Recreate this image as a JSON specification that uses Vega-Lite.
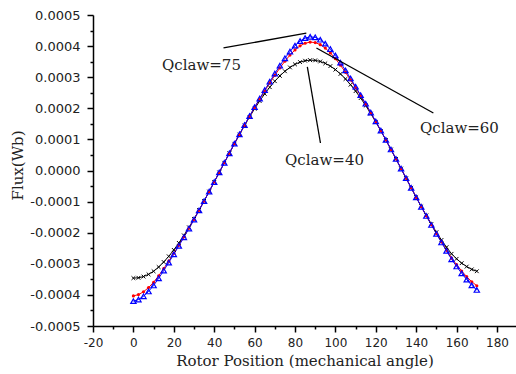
{
  "$schema": "https://vega.github.io/schema/vega-lite/v6.json",
  "width": 423,
  "height": 311,
  "autosize": "none",
  "padding": {"left": 93, "top": 15, "right": 0, "bottom": 48},
  "background": "white",
  "config": {"view": {"stroke": null}},
  "datasets": {
    "curves": [
      {"s":"Qclaw=40","x":0,"y":-0.000346},{"s":"Qclaw=40","x":2.5,"y":-0.000345},{"s":"Qclaw=40","x":5,"y":-0.000341},{"s":"Qclaw=40","x":7.5,"y":-0.000334},{"s":"Qclaw=40","x":10,"y":-0.000324},{"s":"Qclaw=40","x":12.5,"y":-0.0003105},{"s":"Qclaw=40","x":15,"y":-0.0002943},{"s":"Qclaw=40","x":17.5,"y":-0.0002759},{"s":"Qclaw=40","x":20,"y":-0.0002554},{"s":"Qclaw=40","x":22.5,"y":-0.0002329},{"s":"Qclaw=40","x":25,"y":-0.0002087},{"s":"Qclaw=40","x":27.5,"y":-0.0001828},{"s":"Qclaw=40","x":30,"y":-0.0001556},{"s":"Qclaw=40","x":32.5,"y":-0.0001272},{"s":"Qclaw=40","x":35,"y":-0.0000978},{"s":"Qclaw=40","x":37.5,"y":-0.0000677},{"s":"Qclaw=40","x":40,"y":-0.0000371},{"s":"Qclaw=40","x":42.5,"y":-0.0000062},{"s":"Qclaw=40","x":45,"y":0.0000248},{"s":"Qclaw=40","x":47.5,"y":0.0000555},{"s":"Qclaw=40","x":50,"y":0.0000859},{"s":"Qclaw=40","x":52.5,"y":0.0001156},{"s":"Qclaw=40","x":55,"y":0.0001444},{"s":"Qclaw=40","x":57.5,"y":0.0001721},{"s":"Qclaw=40","x":60,"y":0.0001985},{"s":"Qclaw=40","x":62.5,"y":0.0002234},{"s":"Qclaw=40","x":65,"y":0.0002466},{"s":"Qclaw=40","x":67.5,"y":0.0002679},{"s":"Qclaw=40","x":70,"y":0.0002872},{"s":"Qclaw=40","x":72.5,"y":0.0003043},{"s":"Qclaw=40","x":75,"y":0.0003191},{"s":"Qclaw=40","x":77.5,"y":0.0003314},{"s":"Qclaw=40","x":80,"y":0.0003413},{"s":"Qclaw=40","x":82.5,"y":0.0003485},{"s":"Qclaw=40","x":85,"y":0.000353},{"s":"Qclaw=40","x":87.5,"y":0.0003549},{"s":"Qclaw=40","x":90,"y":0.0003541},{"s":"Qclaw=40","x":92.5,"y":0.0003506},{"s":"Qclaw=40","x":95,"y":0.0003445},{"s":"Qclaw=40","x":97.5,"y":0.0003357},{"s":"Qclaw=40","x":100,"y":0.0003243},{"s":"Qclaw=40","x":102.5,"y":0.0003105},{"s":"Qclaw=40","x":105,"y":0.0002943},{"s":"Qclaw=40","x":107.5,"y":0.0002759},{"s":"Qclaw=40","x":110,"y":0.0002554},{"s":"Qclaw=40","x":112.5,"y":0.0002329},{"s":"Qclaw=40","x":115,"y":0.0002087},{"s":"Qclaw=40","x":117.5,"y":0.0001828},{"s":"Qclaw=40","x":120,"y":0.0001556},{"s":"Qclaw=40","x":122.5,"y":0.0001272},{"s":"Qclaw=40","x":125,"y":0.0000978},{"s":"Qclaw=40","x":127.5,"y":0.0000677},{"s":"Qclaw=40","x":130,"y":0.0000371},{"s":"Qclaw=40","x":132.5,"y":0.0000062},{"s":"Qclaw=40","x":135,"y":-0.0000248},{"s":"Qclaw=40","x":137.5,"y":-0.0000555},{"s":"Qclaw=40","x":140,"y":-0.0000859},{"s":"Qclaw=40","x":142.5,"y":-0.0001156},{"s":"Qclaw=40","x":145,"y":-0.0001444},{"s":"Qclaw=40","x":147.5,"y":-0.0001721},{"s":"Qclaw=40","x":150,"y":-0.0001985},{"s":"Qclaw=40","x":152.5,"y":-0.0002234},{"s":"Qclaw=40","x":155,"y":-0.0002466},{"s":"Qclaw=40","x":157.5,"y":-0.0002679},{"s":"Qclaw=40","x":160,"y":-0.000284},{"s":"Qclaw=40","x":162.5,"y":-0.000298},{"s":"Qclaw=40","x":165,"y":-0.000309},{"s":"Qclaw=40","x":167.5,"y":-0.000318},{"s":"Qclaw=40","x":170,"y":-0.000324},
      {"s":"Qclaw=60","x":0,"y":-0.0004032},{"s":"Qclaw=60","x":2.5,"y":-0.0003991},{"s":"Qclaw=60","x":5,"y":-0.00039},{"s":"Qclaw=60","x":7.5,"y":-0.0003765},{"s":"Qclaw=60","x":10,"y":-0.0003593},{"s":"Qclaw=60","x":12.5,"y":-0.0003385},{"s":"Qclaw=60","x":15,"y":-0.0003156},{"s":"Qclaw=60","x":17.5,"y":-0.0002914},{"s":"Qclaw=60","x":20,"y":-0.0002662},{"s":"Qclaw=60","x":22.5,"y":-0.0002402},{"s":"Qclaw=60","x":25,"y":-0.0002133},{"s":"Qclaw=60","x":27.5,"y":-0.0001856},{"s":"Qclaw=60","x":30,"y":-0.0001573},{"s":"Qclaw=60","x":32.5,"y":-0.0001281},{"s":"Qclaw=60","x":35,"y":-0.0000983},{"s":"Qclaw=60","x":37.5,"y":-0.0000677},{"s":"Qclaw=60","x":40,"y":-0.0000371},{"s":"Qclaw=60","x":42.5,"y":-0.0000062},{"s":"Qclaw=60","x":45,"y":0.0000248},{"s":"Qclaw=60","x":47.5,"y":0.0000555},{"s":"Qclaw=60","x":50,"y":0.0000863},{"s":"Qclaw=60","x":52.5,"y":0.0001164},{"s":"Qclaw=60","x":55,"y":0.0001457},{"s":"Qclaw=60","x":57.5,"y":0.0001744},{"s":"Qclaw=60","x":60,"y":0.0002023},{"s":"Qclaw=60","x":62.5,"y":0.0002295},{"s":"Qclaw=60","x":65,"y":0.0002559},{"s":"Qclaw=60","x":67.5,"y":0.0002815},{"s":"Qclaw=60","x":70,"y":0.0003061},{"s":"Qclaw=60","x":72.5,"y":0.0003296},{"s":"Qclaw=60","x":75,"y":0.0003514},{"s":"Qclaw=60","x":77.5,"y":0.000371},{"s":"Qclaw=60","x":80,"y":0.0003878},{"s":"Qclaw=60","x":82.5,"y":0.0004008},{"s":"Qclaw=60","x":85,"y":0.0004092},{"s":"Qclaw=60","x":87.5,"y":0.0004128},{"s":"Qclaw=60","x":90,"y":0.0004113},{"s":"Qclaw=60","x":92.5,"y":0.0004047},{"s":"Qclaw=60","x":95,"y":0.0003935},{"s":"Qclaw=60","x":97.5,"y":0.0003782},{"s":"Qclaw=60","x":100,"y":0.0003596},{"s":"Qclaw=60","x":102.5,"y":0.0003385},{"s":"Qclaw=60","x":105,"y":0.0003156},{"s":"Qclaw=60","x":107.5,"y":0.0002914},{"s":"Qclaw=60","x":110,"y":0.0002662},{"s":"Qclaw=60","x":112.5,"y":0.0002402},{"s":"Qclaw=60","x":115,"y":0.0002133},{"s":"Qclaw=60","x":117.5,"y":0.0001856},{"s":"Qclaw=60","x":120,"y":0.0001573},{"s":"Qclaw=60","x":122.5,"y":0.0001281},{"s":"Qclaw=60","x":125,"y":0.0000983},{"s":"Qclaw=60","x":127.5,"y":0.0000677},{"s":"Qclaw=60","x":130,"y":0.0000371},{"s":"Qclaw=60","x":132.5,"y":0.0000062},{"s":"Qclaw=60","x":135,"y":-0.0000248},{"s":"Qclaw=60","x":137.5,"y":-0.0000555},{"s":"Qclaw=60","x":140,"y":-0.0000863},{"s":"Qclaw=60","x":142.5,"y":-0.0001164},{"s":"Qclaw=60","x":145,"y":-0.0001457},{"s":"Qclaw=60","x":147.5,"y":-0.0001744},{"s":"Qclaw=60","x":150,"y":-0.0002023},{"s":"Qclaw=60","x":152.5,"y":-0.0002295},{"s":"Qclaw=60","x":155,"y":-0.0002559},{"s":"Qclaw=60","x":157.5,"y":-0.0002815},{"s":"Qclaw=60","x":160,"y":-0.0003029},{"s":"Qclaw=60","x":162.5,"y":-0.0003233},{"s":"Qclaw=60","x":165,"y":-0.0003413},{"s":"Qclaw=60","x":167.5,"y":-0.0003576},{"s":"Qclaw=60","x":170,"y":-0.0003705},
      {"s":"Qclaw=75","x":0,"y":-0.00042},{"s":"Qclaw=75","x":2.5,"y":-0.0004149},{"s":"Qclaw=75","x":5,"y":-0.0004043},{"s":"Qclaw=75","x":7.5,"y":-0.0003889},{"s":"Qclaw=75","x":10,"y":-0.0003696},{"s":"Qclaw=75","x":12.5,"y":-0.0003467},{"s":"Qclaw=75","x":15,"y":-0.0003219},{"s":"Qclaw=75","x":17.5,"y":-0.000296},{"s":"Qclaw=75","x":20,"y":-0.0002694},{"s":"Qclaw=75","x":22.5,"y":-0.0002423},{"s":"Qclaw=75","x":25,"y":-0.0002147},{"s":"Qclaw=75","x":27.5,"y":-0.0001865},{"s":"Qclaw=75","x":30,"y":-0.0001578},{"s":"Qclaw=75","x":32.5,"y":-0.0001284},{"s":"Qclaw=75","x":35,"y":-0.0000985},{"s":"Qclaw=75","x":37.5,"y":-0.0000677},{"s":"Qclaw=75","x":40,"y":-0.0000371},{"s":"Qclaw=75","x":42.5,"y":-0.0000062},{"s":"Qclaw=75","x":45,"y":0.0000248},{"s":"Qclaw=75","x":47.5,"y":0.0000555},{"s":"Qclaw=75","x":50,"y":0.0000864},{"s":"Qclaw=75","x":52.5,"y":0.0001166},{"s":"Qclaw=75","x":55,"y":0.0001461},{"s":"Qclaw=75","x":57.5,"y":0.0001751},{"s":"Qclaw=75","x":60,"y":0.0002035},{"s":"Qclaw=75","x":62.5,"y":0.0002313},{"s":"Qclaw=75","x":65,"y":0.0002586},{"s":"Qclaw=75","x":67.5,"y":0.0002855},{"s":"Qclaw=75","x":70,"y":0.0003117},{"s":"Qclaw=75","x":72.5,"y":0.000337},{"s":"Qclaw=75","x":75,"y":0.0003609},{"s":"Qclaw=75","x":77.5,"y":0.0003826},{"s":"Qclaw=75","x":80,"y":0.0004014},{"s":"Qclaw=75","x":82.5,"y":0.0004161},{"s":"Qclaw=75","x":85,"y":0.0004257},{"s":"Qclaw=75","x":87.5,"y":0.0004298},{"s":"Qclaw=75","x":90,"y":0.0004281},{"s":"Qclaw=75","x":92.5,"y":0.0004205},{"s":"Qclaw=75","x":95,"y":0.0004078},{"s":"Qclaw=75","x":97.5,"y":0.0003906},{"s":"Qclaw=75","x":100,"y":0.0003699},{"s":"Qclaw=75","x":102.5,"y":0.0003467},{"s":"Qclaw=75","x":105,"y":0.0003219},{"s":"Qclaw=75","x":107.5,"y":0.000296},{"s":"Qclaw=75","x":110,"y":0.0002694},{"s":"Qclaw=75","x":112.5,"y":0.0002423},{"s":"Qclaw=75","x":115,"y":0.0002147},{"s":"Qclaw=75","x":117.5,"y":0.0001865},{"s":"Qclaw=75","x":120,"y":0.0001578},{"s":"Qclaw=75","x":122.5,"y":0.0001284},{"s":"Qclaw=75","x":125,"y":0.0000985},{"s":"Qclaw=75","x":127.5,"y":0.0000677},{"s":"Qclaw=75","x":130,"y":0.0000371},{"s":"Qclaw=75","x":132.5,"y":0.0000062},{"s":"Qclaw=75","x":135,"y":-0.0000248},{"s":"Qclaw=75","x":137.5,"y":-0.0000555},{"s":"Qclaw=75","x":140,"y":-0.0000864},{"s":"Qclaw=75","x":142.5,"y":-0.0001166},{"s":"Qclaw=75","x":145,"y":-0.0001461},{"s":"Qclaw=75","x":147.5,"y":-0.0001751},{"s":"Qclaw=75","x":150,"y":-0.0002035},{"s":"Qclaw=75","x":152.5,"y":-0.0002313},{"s":"Qclaw=75","x":155,"y":-0.0002586},{"s":"Qclaw=75","x":157.5,"y":-0.0002855},{"s":"Qclaw=75","x":160,"y":-0.0003085},{"s":"Qclaw=75","x":162.5,"y":-0.0003307},{"s":"Qclaw=75","x":165,"y":-0.0003508},{"s":"Qclaw=75","x":167.5,"y":-0.0003692},{"s":"Qclaw=75","x":170,"y":-0.0003841}
    ],
    "leaders": [
      {"x": 44.6, "y": 0.000394, "x2": 85.6, "y2": 0.000442},
      {"x": 86.1, "y": 0.000333, "x2": 92.6, "y2": 0.0000884},
      {"x": 90.6, "y": 0.000394, "x2": 148.5, "y2": 0.000185}
    ],
    "labels": [
      {"t": "Qclaw=75", "x": 33.7, "y": 0.000339},
      {"t": "Qclaw=40", "x": 94.6, "y": 0.0000338},
      {"t": "Qclaw=60", "x": 161.4, "y": 0.000137}
    ]
  },
  "encoding": {
    "x": {
      "field": "x", "type": "quantitative",
      "scale": {"domain": [-20, 189.4], "nice": false, "zero": false},
      "axis": {
        "title": "Rotor Position (mechanical angle)",
        "titleFont": "DejaVu Serif", "titleFontSize": 15, "titleFontWeight": "normal", "titleColor": "#222",
        "titleBaseline": "middle", "titleY": 34,
        "values": [-20,-10,0,10,20,30,40,50,60,70,80,90,100,110,120,130,140,150,160,170,180],
        "labelExpr": "datum.value % 20 === 0 ? ((datum.value < 0 ? '-' : '') + abs(datum.value)) : ''",
        "labelFont": "DejaVu Sans", "labelFontSize": 12, "labelColor": "#222", "labelPadding": 5,
        "tickSize": {"condition": {"test": "datum.value % 20 === 0", "value": 6}, "value": 3},
        "tickColor": "black", "tickWidth": 1.5, "domainColor": "black", "domainWidth": 1.5,
        "grid": false, "labelFlush": false, "labelOverlap": false
      }
    },
    "y": {
      "field": "y", "type": "quantitative",
      "scale": {"domain": [-0.0005, 0.0005], "nice": false, "zero": false},
      "axis": {
        "title": "Flux(Wb)",
        "titleFont": "DejaVu Serif", "titleFontSize": 15, "titleFontWeight": "normal", "titleColor": "#222",
        "titleBaseline": "middle", "titleX": -76, "titleY": 150, "titleAngle": -90,
        "values": [-0.0005,-0.00045,-0.0004,-0.00035,-0.0003,-0.00025,-0.0002,-0.00015,-0.0001,-0.00005,0,0.00005,0.0001,0.00015,0.0002,0.00025,0.0003,0.00035,0.0004,0.00045,0.0005],
        "labelExpr": "abs(round(datum.value * 100000)) % 10 === 0 ? ((datum.value < -0.000001 ? '-' : '') + format(abs(datum.value), '.4f')) : ''",
        "labelFont": "DejaVu Sans", "labelFontSize": 13, "labelColor": "#222", "labelPadding": 7,
        "tickSize": {"condition": {"test": "abs(round(datum.value * 100000)) % 10 === 0", "value": 6}, "value": 3},
        "tickColor": "black", "tickWidth": 1.5, "domainColor": "black", "domainWidth": 1.5,
        "grid": false, "labelFlush": false, "labelOverlap": false
      }
    }
  },
  "layer": [
    {
      "data": {"name": "curves"},
      "mark": {"type": "line", "strokeWidth": 1},
      "encoding": {
        "color": {"field": "s", "type": "nominal", "scale": {"domain": ["Qclaw=40","Qclaw=60","Qclaw=75"], "range": ["#000000","#ff0000","#0000ff"]}, "legend": null},
        "detail": {"field": "s"}
      }
    },
    {
      "data": {"name": "curves"},
      "transform": [{"filter": "datum.s === 'Qclaw=40'"}],
      "mark": {"type": "point", "filled": false, "strokeWidth": 1, "opacity": 1, "color": "#000000", "shape": "M-1,-1L1,1M-1,1L1,-1", "size": 14}
    },
    {
      "data": {"name": "curves"},
      "transform": [{"filter": "datum.s === 'Qclaw=60'"}],
      "mark": {"type": "point", "filled": true, "opacity": 1, "color": "#ff0000", "shape": "circle", "size": 10}
    },
    {
      "data": {"name": "curves"},
      "transform": [{"filter": "datum.s === 'Qclaw=75'"}],
      "mark": {"type": "point", "filled": false, "strokeWidth": 1.2, "opacity": 1, "color": "#0000ff", "shape": "triangle-up", "size": 28}
    },
    {
      "data": {"name": "leaders"},
      "mark": {"type": "rule", "color": "black", "strokeWidth": 1.3},
      "encoding": {"x2": {"field": "x2"}, "y2": {"field": "y2"}}
    },
    {
      "data": {"name": "labels"},
      "mark": {"type": "text", "font": "DejaVu Serif", "fontSize": 15, "color": "#222", "align": "center", "baseline": "middle"},
      "encoding": {"text": {"field": "t"}}
    }
  ]
}
